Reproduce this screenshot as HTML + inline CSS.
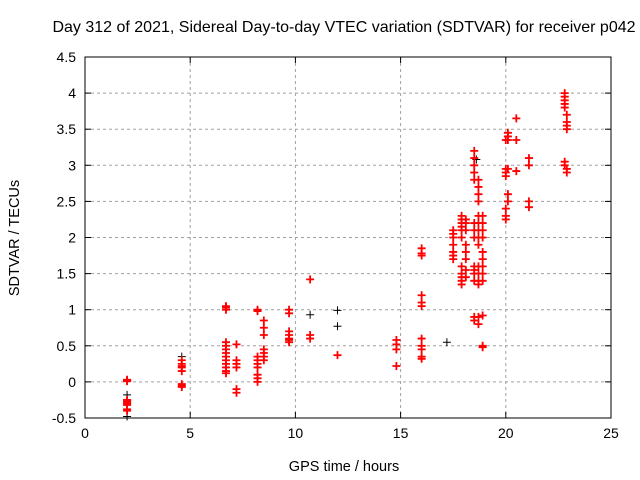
<!DOCTYPE html>
<html><head><meta charset="utf-8"><style>
body{margin:0;background:#fff}
svg{display:block;font-family:"Liberation Sans",sans-serif}
</style></head><body>
<svg id="chart" width="640" height="480" viewBox="0 0 640 480">
<rect x="0" y="0" width="640" height="480" fill="#fff"/>
<text x="344" y="32" font-size="16" text-anchor="middle">Day 312 of 2021, Sidereal Day-to-day VTEC variation (SDTVAR) for receiver p042</text>
<text x="344" y="471" font-size="14.5" text-anchor="middle">GPS time / hours</text>
<text transform="translate(19,238) rotate(-90)" font-size="14.5" text-anchor="middle">SDTVAR / TECUs</text>
<g id="grid"></g><g id="ticks"></g><g id="marks"></g>
<rect x="85" y="57" width="526" height="361" fill="none" stroke="#000" stroke-width="1"/>
</svg>
<script>
const xTicks=[0,5,10,15,20,25];
const yTicks=[-0.5,0,0.5,1,1.5,2,2.5,3,3.5,4,4.5];
const yTickLabels=["-0.5","0","0.5","1","1.5","2","2.5","3","3.5","4","4.5"];
const groupHours=[2.0,4.6,6.7,7.2,8.2,8.5,9.7,10.7,12.0,14.8,16.0,17.5,17.9,18.1,18.5,18.7,18.9,20.0,20.1,20.5,21.1,22.8,22.9];
const groupVtec=[
[0.03,0.02,0.01,-0.25,-0.27,-0.3,-0.28,-0.32,-0.38,-0.4],
[0.3,0.25,0.22,0.2,0.15,-0.03,-0.05,-0.07],
[1.05,1.03,1.0,0.55,0.5,0.45,0.4,0.35,0.3,0.25,0.2,0.15,0.12],
[0.52,0.3,0.25,0.2,-0.1,-0.15],
[1.0,0.98,0.35,0.3,0.25,0.2,0.1,0.05,0.0],
[0.85,0.75,0.65,0.45,0.4,0.35,0.3],
[1.0,0.95,0.7,0.65,0.6,0.58,0.55],
[1.42,0.65,0.6],
[0.37],
[0.58,0.52,0.45,0.22],
[1.85,1.78,1.75,1.2,1.1,1.05,0.6,0.5,0.45,0.35,0.32],
[2.1,2.05,2.0,1.9,1.8,1.75,1.7],
[2.3,2.25,2.2,2.15,2.1,2.0,1.6,1.5,1.45,1.4,1.35],
[2.25,2.2,2.1,1.9,1.8,1.7,1.55,1.45],
[3.2,3.1,3.0,2.9,2.8,2.2,2.1,2.0,1.6,1.55,1.5,1.4,0.9,0.85],
[2.8,2.7,2.6,2.5,2.3,2.2,2.1,2.0,1.9,1.6,1.5,1.4,1.35,0.9,0.8],
[2.3,2.2,2.1,2.0,1.8,1.7,1.6,1.5,1.4,0.92,0.5,0.48],
[3.35,2.95,2.9,2.85,2.4,2.3,2.25],
[3.45,3.4,3.35,2.95,2.6,2.5],
[3.65,3.35,2.92],
[3.1,3.0,2.5,2.42],
[4.0,3.95,3.9,3.85,3.8,3.05,3.0],
[3.7,3.6,3.55,3.5,2.95,2.9]
];
const blackHours=[2.0,2.0,4.6,10.7,12.0,12.0,17.2,18.6];
const blackVtec=[-0.48,-0.18,0.35,0.93,0.77,0.99,0.55,3.08];
const NS="http://www.w3.org/2000/svg";
const X0=85,X1=611,Y0=418,Y1=57;
function sx(v){return X0+(v-0)/(25-0)*(X1-X0);}
function sy(v){return Y0-(v+0.5)/(4.5+0.5)*(Y0-Y1);}
function mk(tag,attrs,parent){const e=document.createElementNS(NS,tag);for(const k in attrs)e.setAttribute(k,attrs[k]);parent.appendChild(e);return e;}
const grid=document.getElementById('grid'),ticks=document.getElementById('ticks'),marks=document.getElementById('marks');
xTicks.forEach(t=>{const x=sx(t);
 if(t>0&&t<25){const g=mk('line',{x1:x,x2:x,y1:Y1,y2:Y0,stroke:'#a0a0a0','stroke-dasharray':'3,3'},grid);
 
 }
 mk('line',{x1:x,x2:x,y1:Y0,y2:Y0-6,stroke:'#000'},ticks);mk('line',{x1:x,x2:x,y1:Y1,y2:Y1+6,stroke:'#000'},ticks);
 const l=mk('text',{x:x,y:Y0+20,'font-size':14,'text-anchor':'middle'},ticks);l.textContent=t;
 
 });
yTicks.forEach((t,i)=>{const y=sy(t);
 if(i>0&&i<yTicks.length-1){const g=mk('line',{x1:X0,x2:X1,y1:y,y2:y,stroke:'#a0a0a0','stroke-dasharray':'3,3'},grid);
 
 }
 mk('line',{x1:X0,x2:X0+6,y1:y,y2:y,stroke:'#000'},ticks);mk('line',{x1:X1,x2:X1-6,y1:y,y2:y,stroke:'#000'},ticks);
 const l=mk('text',{x:X0-9,y:y+5,'font-size':14,'text-anchor':'end'},ticks);l.textContent=yTickLabels[i];
 
 });
function plus(h,v,color,w){const x=sx(h),y=sy(v);
 const p=mk('path',{d:`M${x-4},${y}H${x+4}M${x},${y-4}V${y+4}`,stroke:color,'stroke-width':w,fill:'none'},marks);
 
 }
blackHours.forEach((h,i)=>plus(h,blackVtec[i],'#000',1));
groupHours.forEach((h,i)=>groupVtec[i].forEach(v=>plus(h,v,'#f00',1.8)));
</script>
</body></html>
